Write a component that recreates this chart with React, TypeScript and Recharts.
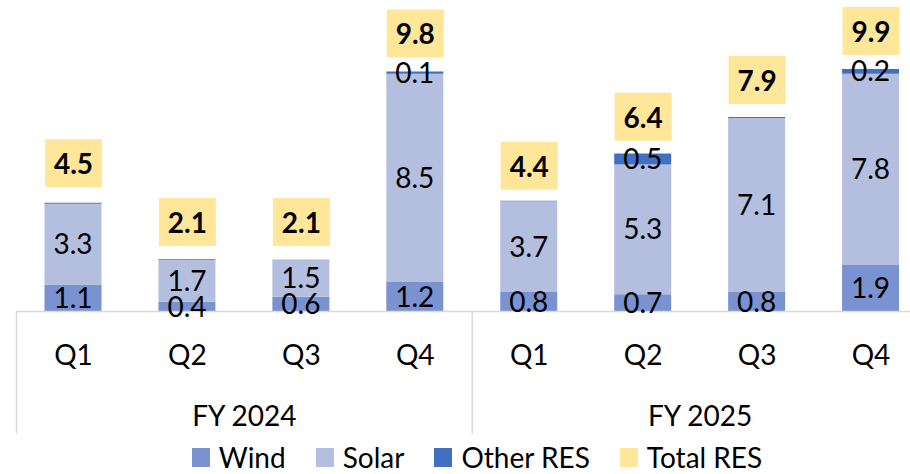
import { ComposedChart, Bar, Line, XAxis, YAxis, LabelList, Legend } from 'recharts';

const years = ['FY 2024', 'FY 2025'];
const quarters = ['Q1', 'Q2', 'Q3', 'Q4'];

// GW added per quarter
const wind = [1.1, 0.4, 0.6, 1.2, 0.8, 0.7, 0.8, 1.9];
const solar = [3.3, 1.7, 1.5, 8.5, 3.7, 5.3, 7.1, 7.8];
const otherRes = [0.04, 0.03, 0.01, 0.1, 0.02, 0.45, 0.04, 0.2];
const totalRes = [4.5, 2.1, 2.1, 9.8, 4.4, 6.4, 7.9, 9.9];

const COLORS = { wind: '#7a92d0', solar: '#b4bedf', other: '#4270c0', total: '#ffe699' };
const FONT = 'Lato, "Open Sans", sans-serif';
const FONT_SIZE = 28;
const GRID = '#d9d9d9';

const CHART_W = 930;
const CHART_H = 474;
const MARGIN = { top: 17.5, right: 2, left: 16.5, bottom: 2 };
const PLOT_W = CHART_W - MARGIN.left - MARGIN.right;

const data = years.flatMap((year, yi) =>
  quarters.map((q, qi) => {
    const i = yi * quarters.length + qi;
    return {
      id: `${year} ${q}`,
      year,
      quarter: q,
      wind: wind[i],
      solar: solar[i],
      other: otherRes[i],
      total: totalRes[i],
    };
  })
);

const legendItems = [
  { name: 'Wind', color: COLORS.wind },
  { name: 'Solar', color: COLORS.solar },
  { name: 'Other RES', color: COLORS.other },
  { name: 'Total RES', color: COLORS.total },
];

const fmt = (v: number) => (v >= 0.05 ? v.toFixed(1) : '');

const AxisTick = (props: any) => {
  const { x, y, payload, index } = props;
  const band = PLOT_W / data.length;
  const row = data[index];
  const groupStart = index % quarters.length === 0;
  return (
    <g>
      <text x={x} y={y + 42} textAnchor="middle" dominantBaseline="central" fontFamily={FONT} fontSize={FONT_SIZE} fill="#000">
        {row ? row.quarter : payload.value}
      </text>
      {groupStart && (
        <>
          <line x1={x - band / 2} x2={x - band / 2} y1={y} y2={y + 122} stroke={GRID} strokeWidth={1.5} />
          <text x={x + band * 1.5} y={y + 103} textAnchor="middle" dominantBaseline="central" fontFamily={FONT} fontSize={FONT_SIZE} fill="#000">
            {row.year}
          </text>
        </>
      )}
    </g>
  );
};

const TotalLabel = (props: any) => {
  const { x, y, value } = props;
  const w = 57;
  const h = 48;
  const top = y - 14 - h;
  return (
    <g>
      <rect x={x - w / 2} y={top} width={w} height={h} fill={COLORS.total} />
      <text x={x} y={top + h / 2} textAnchor="middle" dominantBaseline="central" fontFamily={FONT} fontWeight="bold" fontSize={FONT_SIZE} fill="#000">
        {Number(value).toFixed(1)}
      </text>
    </g>
  );
};

const renderLegend = () => (
  <div
    style={{
      display: 'flex',
      justifyContent: 'center',
      alignItems: 'center',
      gap: 30,
      height: 30,
      lineHeight: '30px',
      fontFamily: FONT,
      fontSize: FONT_SIZE,
      color: '#000',
    }}
  >
    {legendItems.map((it) => (
      <div key={it.name} style={{ display: 'flex', alignItems: 'center', height: 30 }}>
        <span style={{ display: 'inline-block', width: 18, height: 19, background: it.color, marginRight: 9 }} />
        <span>{it.name}</span>
      </div>
    ))}
  </div>
);

const labelStyle = { fill: '#000', fontSize: FONT_SIZE, fontFamily: FONT };

export default function App() {
  return (
    <div style={{ position: 'fixed', left: 0, top: 0, width: 910, height: 474, overflow: 'hidden', background: '#fff' }}>
      <ComposedChart width={CHART_W} height={CHART_H} data={data} margin={MARGIN}>
        <XAxis
          dataKey="id"
          height={130.5}
          interval={0}
          tickLine={false}
          tickSize={0}
          tickMargin={0}
          axisLine={{ stroke: GRID, strokeWidth: 1.5 }}
          tick={<AxisTick />}
        />
        <YAxis hide domain={[0, 12]} />
        <Legend content={renderLegend} verticalAlign="bottom" wrapperStyle={{ left: 0, width: 954, height: 30 }} />
        <Bar dataKey="wind" name="Wind" stackId="res" fill={COLORS.wind} barSize={57} isAnimationActive={false}>
          <LabelList dataKey="wind" position="center" formatter={fmt} style={labelStyle} />
        </Bar>
        <Bar dataKey="solar" name="Solar" stackId="res" fill={COLORS.solar} barSize={57} isAnimationActive={false}>
          <LabelList dataKey="solar" position="center" formatter={fmt} style={labelStyle} />
        </Bar>
        <Bar dataKey="other" name="Other RES" stackId="res" fill={COLORS.other} barSize={57} isAnimationActive={false}>
          <LabelList dataKey="other" position="center" formatter={fmt} style={labelStyle} />
        </Bar>
        <Line dataKey="total" name="Total RES" stroke="none" dot={false} activeDot={false} legendType="none" isAnimationActive={false}>
          <LabelList dataKey="total" content={<TotalLabel />} />
        </Line>
      </ComposedChart>
    </div>
  );
}
